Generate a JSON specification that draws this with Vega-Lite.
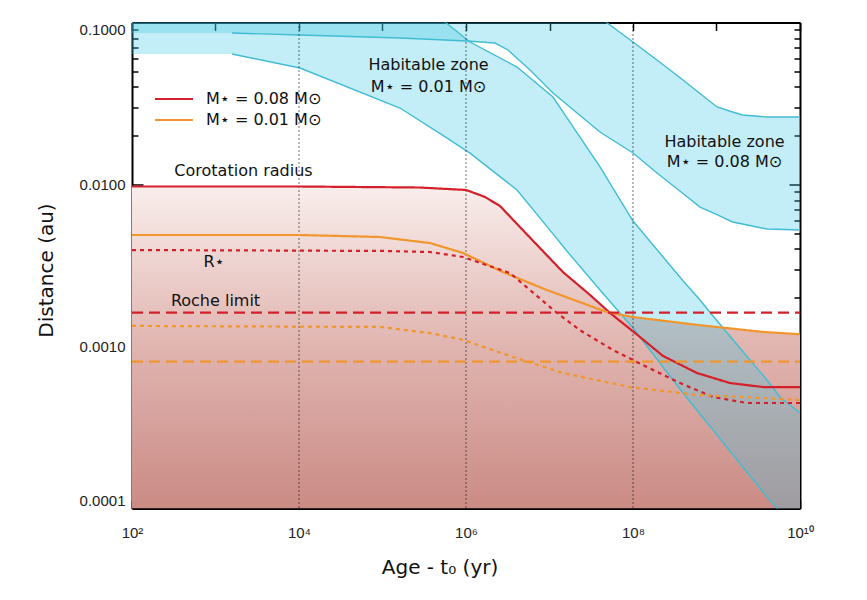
{
  "$schema": "https://vega.github.io/schema/vega-lite/v6.json",
  "width": 668,
  "height": 486,
  "autosize": {"type": "none"},
  "padding": {"left": 132, "top": 22.5, "right": 67, "bottom": 91.5},
  "background": "white",
  "config": {
    "view": {"stroke": null},
    "axis": {
      "grid": false,
      "domainColor": "#000",
      "domainWidth": 2,
      "tickColor": "#000",
      "tickWidth": 1.5,
      "labelFont": "Liberation Sans",
      "labelFontSize": 15,
      "labelColor": "#222",
      "titleFont": "DejaVu Sans",
      "titleFontSize": 20,
      "titleFontWeight": "normal",
      "titleColor": "#111",
      "zindex": 1,
      "labelOverlap": false,
      "labelBound": false
    },
    "legend": {
      "orient": "none",
      "legendX": 34,
      "legendY": 68.5,
      "padding": 0,
      "symbolType": "M-5,0H5",
      "symbolSize": 57.76,
      "symbolStrokeWidth": 2,
      "labelFont": "DejaVu Sans",
      "labelFontSize": 16,
      "labelColor": "#111",
      "labelOffset": 24,
      "rowPadding": 5
    }
  },
  "datasets": {
    "corotFill": [
      {"t": 100, "d": 0.00972},
      {"t": 10000, "d": 0.00972},
      {"t": 281000, "d": 0.00958},
      {"t": 1000000, "d": 0.00925},
      {"t": 1470000, "d": 0.00861},
      {"t": 2550000, "d": 0.00737},
      {"t": 4200000, "d": 0.00562},
      {"t": 7690000, "d": 0.00405},
      {"t": 14500000, "d": 0.00288},
      {"t": 30600000, "d": 0.00208},
      {"t": 50200000, "d": 0.00162},
      {"t": 100000000, "d": 0.00152},
      {"t": 584000000, "d": 0.00136},
      {"t": 3600000000, "d": 0.00123},
      {"t": 10000000000, "d": 0.00119}
    ],
    "hz001": [
      {"t": 100, "lo": 0.06389, "hi": 1.0},
      {"t": 1576, "lo": 0.06389, "hi": 1.0},
      {"t": 10280, "lo": 0.05237, "hi": 0.52},
      {"t": 162000, "lo": 0.02966, "hi": 0.168},
      {"t": 576100, "lo": 0.01953, "hi": 0.0997},
      {"t": 1117000, "lo": 0.01563, "hi": 0.07576},
      {"t": 4081000, "lo": 0.00925, "hi": 0.05312},
      {"t": 11010000, "lo": 0.00496, "hi": 0.03468},
      {"t": 15760000, "lo": 0.00394, "hi": 0.02633},
      {"t": 40250000, "lo": 0.00223, "hi": 0.01283},
      {"t": 100000000, "lo": 0.0013, "hi": 0.005953},
      {"t": 397000000, "lo": 0.000516, "hi": 0.002544},
      {"t": 634500000, "lo": 0.000383, "hi": 0.001936},
      {"t": 908000000, "lo": 0.000305, "hi": 0.001543},
      {"t": 2519000000, "lo": 0.0001587, "hi": 0.000825},
      {"t": 4025000000, "lo": 0.000118, "hi": 0.000621},
      {"t": 5762000000, "lo": 0.0000951, "hi": 0.000488},
      {"t": 10000000000, "lo": 0.0000686, "hi": 0.000389}
    ],
    "hz008": [
      {"t": 100, "lo": 0.08613, "hi": 0.3},
      {"t": 1576, "lo": 0.08613, "hi": 0.3},
      {"t": 10280, "lo": 0.08373, "hi": 0.3},
      {"t": 162000, "lo": 0.08022, "hi": 0.3},
      {"t": 1028000, "lo": 0.07685, "hi": 0.3},
      {"t": 2225000, "lo": 0.0747, "hi": 0.3},
      {"t": 3184000, "lo": 0.06764, "hi": 0.3},
      {"t": 5842000, "lo": 0.0509, "hi": 0.3},
      {"t": 11010000, "lo": 0.03671, "hi": 0.177},
      {"t": 40250000, "lo": 0.02109, "hi": 0.1074},
      {"t": 48830000, "lo": 0.01978, "hi": 0.0997},
      {"t": 100000000, "lo": 0.01565, "hi": 0.07576},
      {"t": 193900000, "lo": 0.01179, "hi": 0.05868},
      {"t": 397000000, "lo": 0.00879, "hi": 0.04417},
      {"t": 634500000, "lo": 0.00726, "hi": 0.03645},
      {"t": 1014000000, "lo": 0.00651, "hi": 0.03009},
      {"t": 1555000000, "lo": 0.00587, "hi": 0.02803},
      {"t": 2048000000, "lo": 0.0057, "hi": 0.02685},
      {"t": 4025000000, "lo": 0.00531, "hi": 0.0261},
      {"t": 10000000000, "lo": 0.00524, "hi": 0.0261}
    ],
    "epochs": [
      {"t": 10000},
      {"t": 1000000},
      {"t": 100000000}
    ],
    "models": [
      {"t": 100, "d": 0.00972, "mass": "0.08", "kind": "corot"},
      {"t": 10000, "d": 0.00972, "mass": "0.08", "kind": "corot"},
      {"t": 281000, "d": 0.00958, "mass": "0.08", "kind": "corot"},
      {"t": 1000000, "d": 0.00925, "mass": "0.08", "kind": "corot"},
      {"t": 1470000, "d": 0.00861, "mass": "0.08", "kind": "corot"},
      {"t": 1690000, "d": 0.00837, "mass": "0.08", "kind": "corot"},
      {"t": 2550000, "d": 0.00737, "mass": "0.08", "kind": "corot"},
      {"t": 4200000, "d": 0.00562, "mass": "0.08", "kind": "corot"},
      {"t": 7690000, "d": 0.00405, "mass": "0.08", "kind": "corot"},
      {"t": 14500000, "d": 0.00288, "mass": "0.08", "kind": "corot"},
      {"t": 30600000, "d": 0.00208, "mass": "0.08", "kind": "corot"},
      {"t": 53100000, "d": 0.00161, "mass": "0.08", "kind": "corot"},
      {"t": 106000000, "d": 0.00121, "mass": "0.08", "kind": "corot"},
      {"t": 229000000, "d": 0.000874, "mass": "0.08", "kind": "corot"},
      {"t": 584000000, "d": 0.000686, "mass": "0.08", "kind": "corot"},
      {"t": 1450000000, "d": 0.000595, "mass": "0.08", "kind": "corot"},
      {"t": 3600000000, "d": 0.000562, "mass": "0.08", "kind": "corot"},
      {"t": 10000000000, "d": 0.000562, "mass": "0.08", "kind": "corot"},

      {"t": 100, "d": 0.00488, "mass": "0.01", "kind": "corot"},
      {"t": 10000, "d": 0.00488, "mass": "0.01", "kind": "corot"},
      {"t": 93300, "d": 0.00474, "mass": "0.01", "kind": "corot"},
      {"t": 371000, "d": 0.00435, "mass": "0.01", "kind": "corot"},
      {"t": 920000, "d": 0.00378, "mass": "0.01", "kind": "corot"},
      {"t": 2770000, "d": 0.00288, "mass": "0.01", "kind": "corot"},
      {"t": 9330000, "d": 0.00223, "mass": "0.01", "kind": "corot"},
      {"t": 48900000, "d": 0.00163, "mass": "0.01", "kind": "corot"},
      {"t": 100000000, "d": 0.00152, "mass": "0.01", "kind": "corot"},
      {"t": 584000000, "d": 0.00136, "mass": "0.01", "kind": "corot"},
      {"t": 3600000000, "d": 0.00123, "mass": "0.01", "kind": "corot"},
      {"t": 10000000000, "d": 0.00119, "mass": "0.01", "kind": "corot"},

      {"t": 100, "d": 0.00394, "mass": "0.08", "kind": "rstar"},
      {"t": 100000, "d": 0.00389, "mass": "0.08", "kind": "rstar"},
      {"t": 371000, "d": 0.00383, "mass": "0.08", "kind": "rstar"},
      {"t": 920000, "d": 0.00357, "mass": "0.08", "kind": "rstar"},
      {"t": 3370000, "d": 0.00284, "mass": "0.08", "kind": "rstar"},
      {"t": 5840000, "d": 0.00223, "mass": "0.08", "kind": "rstar"},
      {"t": 12300000, "d": 0.00161, "mass": "0.08", "kind": "rstar"},
      {"t": 23200000, "d": 0.00126, "mass": "0.08", "kind": "rstar"},
      {"t": 57600000, "d": 0.000951, "mass": "0.08", "kind": "rstar"},
      {"t": 147000000, "d": 0.000747, "mass": "0.08", "kind": "rstar"},
      {"t": 366000000, "d": 0.000595, "mass": "0.08", "kind": "rstar"},
      {"t": 908000000, "d": 0.000488, "mass": "0.08", "kind": "rstar"},
      {"t": 2320000000, "d": 0.000448, "mass": "0.08", "kind": "rstar"},
      {"t": 10000000000, "d": 0.000448, "mass": "0.08", "kind": "rstar"},

      {"t": 100, "d": 0.00134, "mass": "0.01", "kind": "rstar"},
      {"t": 93300, "d": 0.00132, "mass": "0.01", "kind": "rstar"},
      {"t": 371000, "d": 0.00121, "mass": "0.01", "kind": "rstar"},
      {"t": 920000, "d": 0.0011, "mass": "0.01", "kind": "rstar"},
      {"t": 3660000, "d": 0.000861, "mass": "0.01", "kind": "rstar"},
      {"t": 14500000, "d": 0.000686, "mass": "0.01", "kind": "rstar"},
      {"t": 92000000, "d": 0.000562, "mass": "0.01", "kind": "rstar"},
      {"t": 584000000, "d": 0.000502, "mass": "0.01", "kind": "rstar"},
      {"t": 3600000000, "d": 0.000481, "mass": "0.01", "kind": "rstar"},
      {"t": 10000000000, "d": 0.000467, "mass": "0.01", "kind": "rstar"},

      {"t": 100, "d": 0.00162, "mass": "0.08", "kind": "roche"},
      {"t": 10000000000, "d": 0.00162, "mass": "0.08", "kind": "roche"},
      {"t": 100, "d": 0.000806, "mass": "0.01", "kind": "roche"},
      {"t": 10000000000, "d": 0.000806, "mass": "0.01", "kind": "roche"}
    ],
    "notes": [
      {"t": 2163, "d": 0.01212, "label": "Corotation radius"},
      {"t": 960, "d": 0.00332, "label": "R⋆"},
      {"t": 1000, "d": 0.00191, "label": "Roche limit"},
      {"t": 355600, "d": 0.05465, "label": "Habitable zone"},
      {"t": 355600, "d": 0.03998, "label": "M⋆ = 0.01 M⊙"},
      {"t": 1247000000, "d": 0.0183, "label": "Habitable zone"},
      {"t": 1247000000, "d": 0.01377, "label": "M⋆ = 0.08 M⊙"}
    ]
  },
  "layer": [
    {
      "data": {"name": "corotFill"},
      "mark": {
        "type": "area",
        "clip": true,
        "fill": {
          "gradient": "linear",
          "x1": 0, "y1": 0, "x2": 0, "y2": 1,
          "stops": [
            {"offset": 0, "color": "#f9eeec"},
            {"offset": 0.5, "color": "#e0b4af"},
            {"offset": 1, "color": "#cb8b85"}
          ]
        }
      },
      "encoding": {
        "x": {
          "field": "t", "type": "quantitative",
          "scale": {"type": "log", "domain": [100, 10000000000], "nice": false},
          "axis": {
            "orient": "bottom",
            "title": "Age - t₀ (yr)",
            "titleX": 307.5,
            "titleY": 58.5,
            "titleBaseline": "middle",
            "titleAlign": "center",
            "values": [100, 1000, 10000, 100000, 1000000, 10000000, 100000000, 1000000000, 10000000000],
            "tickSize": -8,
            "labelPadding": 25,
            "labelFlush": false,
            "labelExpr": "datum.value == 100 ? '10²' : datum.value == 10000 ? '10⁴' : datum.value == 1000000 ? '10⁶' : datum.value == 100000000 ? '10⁸' : datum.value == 10000000000 ? '10¹⁰' : ''"
          }
        },
        "y": {
          "field": "d", "type": "quantitative",
          "scale": {"type": "log", "domain": [0.0001, 0.1], "nice": false},
          "axis": {
            "orient": "left",
            "title": "Distance (au)",
            "titleX": -86,
            "titleY": 247.5,
            "titleBaseline": "middle",
            "titleAlign": "center",
            "values": [0.0001, 0.0002, 0.0003, 0.0004, 0.0005, 0.0006, 0.0007, 0.0008, 0.0009, 0.001, 0.002, 0.003, 0.004, 0.005, 0.006, 0.007, 0.008, 0.009, 0.01, 0.02, 0.03, 0.04, 0.05, 0.06, 0.07, 0.08, 0.09, 0.1],
            "tickSize": {"condition": {"test": "abs(log(datum.value) / LN10 - round(log(datum.value) / LN10)) < 0.01", "value": -11}, "value": -6},
            "labelPadding": 18,
            "labelFlush": true,
            "labelExpr": "abs(log(datum.value) / LN10 - round(log(datum.value) / LN10)) < 0.01 ? format(datum.value, '.4f') : ''"
          }
        },
        "y2": {"datum": 0.0001}
      }
    },
    {
      "data": {"name": "hz001"},
      "mark": {"type": "area", "clip": true, "fill": "#3ac6e4", "fillOpacity": 0.3},
      "encoding": {
        "x": {
          "field": "t", "type": "quantitative",
          "scale": {"type": "log", "domain": [100, 10000000000], "nice": false},
          "axis": {
            "orient": "top", "title": null, "labels": false,
            "values": [100, 1000, 10000, 100000, 1000000, 10000000, 100000000, 1000000000, 10000000000],
            "tickSize": -8
          }
        },
        "y": {
          "field": "lo", "type": "quantitative",
          "scale": {"type": "log", "domain": [0.0001, 0.1], "nice": false},
          "axis": {
            "orient": "right", "title": null, "labels": false,
            "values": [0.0001, 0.0002, 0.0003, 0.0004, 0.0005, 0.0006, 0.0007, 0.0008, 0.0009, 0.001, 0.002, 0.003, 0.004, 0.005, 0.006, 0.007, 0.008, 0.009, 0.01, 0.02, 0.03, 0.04, 0.05, 0.06, 0.07, 0.08, 0.09, 0.1],
            "tickSize": {"condition": {"test": "abs(log(datum.value) / LN10 - round(log(datum.value) / LN10)) < 0.01", "value": -11}, "value": -6}
          }
        },
        "y2": {"field": "hi"}
      }
    },
    {
      "data": {"name": "hz008"},
      "mark": {"type": "area", "clip": true, "fill": "#3ac6e4", "fillOpacity": 0.3},
      "encoding": {
        "x": {"field": "t", "type": "quantitative", "scale": {"type": "log", "domain": [100, 10000000000], "nice": false}, "axis": null},
        "y": {"field": "lo", "type": "quantitative", "scale": {"type": "log", "domain": [0.0001, 0.1], "nice": false}, "axis": null},
        "y2": {"field": "hi"}
      }
    },
    {
      "data": {"name": "hz001"},
      "transform": [
        {"filter": "datum.t >= 1500"},
        {"fold": ["lo", "hi"], "as": ["edge", "d"]}
      ],
      "mark": {"type": "line", "clip": true, "color": "#40bdd3", "strokeWidth": 1.4},
      "encoding": {
        "x": {"field": "t", "type": "quantitative", "scale": {"type": "log", "domain": [100, 10000000000], "nice": false}, "axis": null},
        "y": {"field": "d", "type": "quantitative", "scale": {"type": "log", "domain": [0.0001, 0.1], "nice": false}, "axis": null},
        "detail": {"field": "edge"}
      }
    },
    {
      "data": {"name": "hz008"},
      "transform": [
        {"filter": "datum.t >= 1500"},
        {"fold": ["lo", "hi"], "as": ["edge", "d"]}
      ],
      "mark": {"type": "line", "clip": true, "color": "#40bdd3", "strokeWidth": 1.4},
      "encoding": {
        "x": {"field": "t", "type": "quantitative", "scale": {"type": "log", "domain": [100, 10000000000], "nice": false}, "axis": null},
        "y": {"field": "d", "type": "quantitative", "scale": {"type": "log", "domain": [0.0001, 0.1], "nice": false}, "axis": null},
        "detail": {"field": "edge"}
      }
    },
    {
      "data": {"name": "epochs"},
      "mark": {"type": "rule", "color": "#111", "strokeWidth": 1.2, "strokeDash": [1, 3]},
      "encoding": {
        "x": {"field": "t", "type": "quantitative", "scale": {"type": "log", "domain": [100, 10000000000], "nice": false}, "axis": null}
      }
    },
    {
      "data": {"name": "models"},
      "mark": {"type": "line", "clip": true, "strokeWidth": 2.2},
      "encoding": {
        "x": {"field": "t", "type": "quantitative", "scale": {"type": "log", "domain": [100, 10000000000], "nice": false}, "axis": null},
        "y": {"field": "d", "type": "quantitative", "scale": {"type": "log", "domain": [0.0001, 0.1], "nice": false}, "axis": null},
        "color": {
          "field": "mass", "type": "nominal",
          "scale": {"domain": ["0.08", "0.01"], "range": ["#d4202a", "#f0962d"]},
          "legend": {
            "title": null,
            "labelExpr": "datum.label == '0.08' ? 'M⋆ = 0.08 M⊙' : 'M⋆ = 0.01 M⊙'"
          }
        },
        "strokeDash": {
          "field": "kind", "type": "nominal",
          "scale": {"domain": ["corot", "rstar", "roche"], "range": [[1, 0], [4, 4], [11, 6]]},
          "legend": null
        }
      }
    },
    {
      "data": {"name": "notes"},
      "mark": {"type": "text", "font": "DejaVu Sans", "fontSize": 16, "color": "#111", "baseline": "middle", "align": "center"},
      "encoding": {
        "x": {"field": "t", "type": "quantitative", "scale": {"type": "log", "domain": [100, 10000000000], "nice": false}, "axis": null},
        "y": {"field": "d", "type": "quantitative", "scale": {"type": "log", "domain": [0.0001, 0.1], "nice": false}, "axis": null},
        "text": {"field": "label"}
      }
    }
  ],
  "resolve": {"axis": {"x": "independent", "y": "independent"}}
}
